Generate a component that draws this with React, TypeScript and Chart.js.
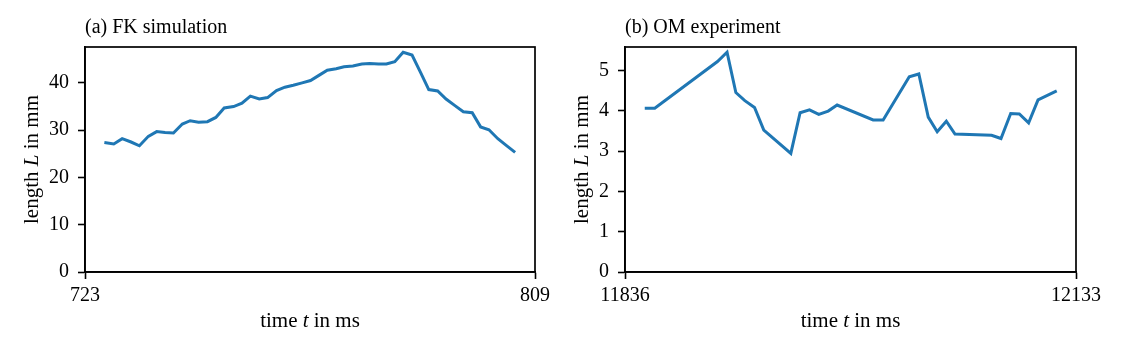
import React, { useEffect, useRef } from "react";
import { Chart, registerables } from "chart.js";
Chart.register(...registerables);

// (a) FK simulation
const fkTime = [726.7, 728.5, 730.1, 731.8, 733.4, 735.1, 736.7, 738.3, 739.9, 741.6, 743.1, 744.7, 746.4, 748.0, 749.6, 751.4, 753.0, 754.6, 756.3, 757.9, 759.6, 761.2, 762.8, 764.5, 766.1, 767.7, 769.3, 771.0, 772.5, 774.2, 775.9, 777.4, 779.1, 780.6, 782.2, 783.8, 785.5, 787.1, 788.7, 790.4, 792.0, 793.7, 795.3, 797.0, 798.6, 800.2, 801.9, 803.5, 805.2];
const fkLength = [27.4, 27.1, 28.2, 27.5, 26.7, 28.7, 29.7, 29.5, 29.4, 31.3, 32.0, 31.7, 31.8, 32.7, 34.7, 35.0, 35.7, 37.2, 36.6, 36.9, 38.4, 39.1, 39.5, 40.0, 40.5, 41.6, 42.7, 43.0, 43.4, 43.6, 44.0, 44.1, 44.0, 44.0, 44.5, 46.5, 45.9, 42.3, 38.6, 38.3, 36.6, 35.2, 33.9, 33.7, 30.7, 30.1, 28.2, 26.8, 25.3];
const fkXTicks = [723, 809];
const fkYTicks = [0, 10, 20, 30, 40];

// (b) OM experiment
const omTime = [11849.0, 11855.6, 11896.9, 11903.2, 11909.0, 11914.9, 11921.3, 11927.4, 11945.2, 11951.3, 11957.5, 11963.6, 11969.8, 11975.7, 11999.4, 12006.0, 12023.2, 12029.5, 12035.7, 12041.6, 12047.6, 12053.3, 12077.4, 12083.6, 12090.0, 12095.7, 12101.8, 12108.0, 12120.3];
const omLength = [4.06, 4.06, 5.22, 5.45, 4.45, 4.25, 4.08, 3.52, 2.94, 3.95, 4.02, 3.91, 3.99, 4.14, 3.77, 3.77, 4.84, 4.91, 3.84, 3.48, 3.74, 3.42, 3.39, 3.31, 3.93, 3.92, 3.70, 4.27, 4.49];
const omXTicks = [11836, 12133];
const omYTicks = [0, 1, 2, 3, 4, 5];

const FONT = '"Liberation Serif", "Times New Roman", serif';

type Seg = { text: string; italic?: boolean };

function drawRich(ctx: CanvasRenderingContext2D, segs: Seg[], size: number, x: number, y: number, rotate: boolean, align: "center" | "left" = "center") {
  ctx.save();
  ctx.translate(x, y);
  if (rotate) ctx.rotate(-Math.PI / 2);
  const fonts = segs.map((s) => `${s.italic ? "italic " : ""}${size}px ${FONT}`);
  let total = 0;
  const widths = segs.map((s, i) => {
    ctx.font = fonts[i];
    const w = ctx.measureText(s.text).width;
    total += w;
    return w;
  });
  let cx = align === "center" ? -total / 2 : 0;
  ctx.textBaseline = "alphabetic";
  ctx.textAlign = "left";
  ctx.fillStyle = "#000";
  segs.forEach((s, i) => {
    ctx.font = fonts[i];
    ctx.fillText(s.text, cx, 0);
    cx += widths[i];
  });
  ctx.restore();
}

type Spec = {
  time: number[];
  length: number[];
  xTicks: number[];
  yTicks: number[];
  yMax: number;
  yAxisWidth: number;
  rightPad: number;
  title: string;
  yLabelX: number;
};

function makeChart(canvas: HTMLCanvasElement, spec: Spec) {
  const deco = {
    id: "deco",
    afterDraw(chart: any) {
      const ctx = chart.ctx as CanvasRenderingContext2D;
      const a = chart.chartArea;
      ctx.save();
      ctx.strokeStyle = "#000";
      ctx.lineWidth = 1.7;
      ctx.strokeRect(a.left, a.top, a.right - a.left, a.bottom - a.top);
      ctx.restore();
      // title
      drawRich(ctx, [{ text: spec.title }], 20, a.left, 33, false, "left");
      // x label
      drawRich(ctx, [{ text: "time " }, { text: "t", italic: true }, { text: " in ms" }], 21, (a.left + a.right) / 2, 327, false);
      // y label
      drawRich(ctx, [{ text: "length " }, { text: "L", italic: true }, { text: " in mm" }], 21, spec.yLabelX, (a.top + a.bottom) / 2, true);
    },
  };
  const xMin = spec.xTicks[0];
  const xMax = spec.xTicks[spec.xTicks.length - 1];
  return new Chart(canvas, {
    type: "line",
    data: {
      datasets: [
        {
          data: spec.time.map((t, i) => ({ x: t, y: spec.length[i] })),
          borderColor: "#1f77b4",
          borderWidth: 3,
          pointRadius: 0,
          tension: 0,
          fill: false,
        },
      ],
    },
    options: {
      animation: false,
      responsive: false,
      devicePixelRatio: 1,
      layout: { autoPadding: false, padding: { top: 47, left: 0, right: spec.rightPad, bottom: 23 } },
      plugins: { legend: { display: false }, tooltip: { enabled: false }, title: { display: false } },
      scales: {
        x: {
          type: "linear",
          min: xMin,
          max: xMax,
          afterBuildTicks: (s: any) => {
            s.ticks = spec.xTicks.map((v) => ({ value: v }));
          },
          afterFit: (s: any) => {
            s.height = 60;
          },
          grid: { display: true, drawOnChartArea: false, drawTicks: true, tickLength: 7, tickWidth: 1.6, tickColor: "#000", color: "#000" },
          border: { display: true, color: "#000", width: 1.7 },
          ticks: { color: "#000", font: { family: FONT, size: 20 }, padding: 5, maxRotation: 0, autoSkip: false, callback: (v: any) => String(v) },
        },
        y: {
          type: "linear",
          min: 0,
          max: spec.yMax,
          afterBuildTicks: (s: any) => {
            s.ticks = spec.yTicks.map((v) => ({ value: v }));
          },
          afterFit: (s: any) => {
            s.width = spec.yAxisWidth;
          },
          grid: { display: true, drawOnChartArea: false, drawTicks: true, tickLength: 7, tickWidth: 1.6, tickColor: "#000", color: "#000" },
          border: { display: true, color: "#000", width: 1.7 },
          ticks: { color: "#000", font: { family: FONT, size: 20 }, padding: 9, autoSkip: false, callback: (v: any) => String(v) },
        },
      },
    } as any,
    plugins: [deco],
  });
}

function Panel({ left, width, spec }: { left: number; width: number; spec: Spec }) {
  const ref = useRef<HTMLCanvasElement | null>(null);
  useEffect(() => {
    if (!ref.current) return;
    const c = makeChart(ref.current, spec);
    return () => c.destroy();
  }, []);
  return (
    <canvas
      ref={ref}
      width={width}
      height={355}
      style={{ position: "absolute", left, top: 0, width, height: 355 }}
    />
  );
}

export default function App() {
  return (
    <div style={{ position: "absolute", left: 0, top: 0, width: 1125, height: 355, background: "#fff" }}>
      <Panel
        left={0}
        width={560}
        spec={{ time: fkTime, length: fkLength, xTicks: fkXTicks, yTicks: fkYTicks, yMax: 47.6, yAxisWidth: 85, rightPad: 25, title: "(a) FK simulation", yLabelX: 38 }}
      />
      <Panel
        left={560}
        width={565}
        spec={{ time: omTime, length: omLength, xTicks: omXTicks, yTicks: omYTicks, yMax: 5.58, yAxisWidth: 65, rightPad: 49, title: "(b) OM experiment", yLabelX: 28 }}
      />
    </div>
  );
}
